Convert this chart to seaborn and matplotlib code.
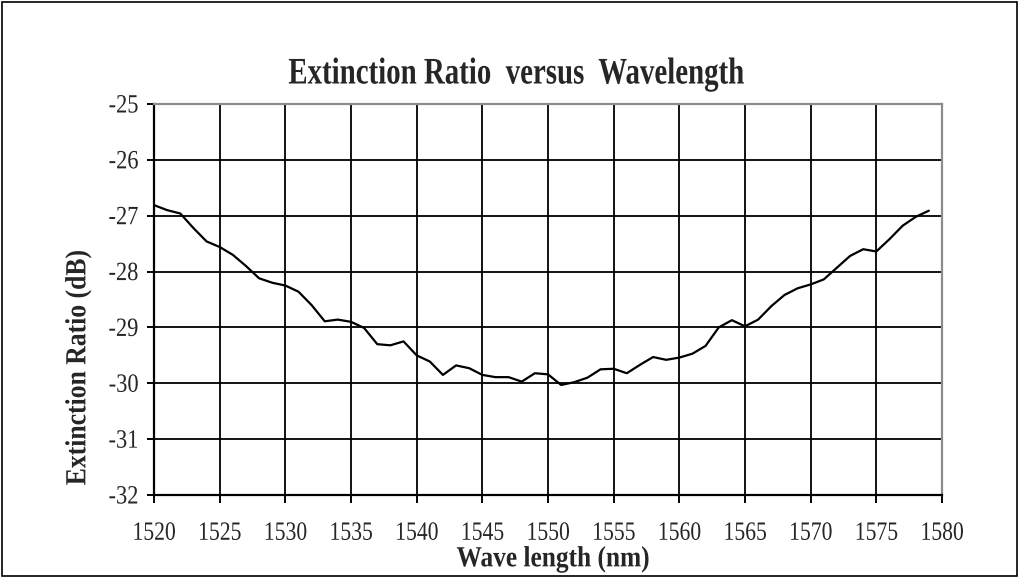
import numpy as np
import pandas as pd
import matplotlib
matplotlib.use("Agg")
import matplotlib.pyplot as plt
import seaborn as sns
from matplotlib.patheffects import AbstractPathEffect
from matplotlib.transforms import Affine2D
from matplotlib.patches import Rectangle

# ---- data ----
wavelength = [1520, 1521, 1522, 1523, 1524, 1525, 1526, 1527, 1528, 1529,
              1530, 1531, 1532, 1533, 1534, 1535, 1536, 1537, 1538, 1539,
              1540, 1541, 1542, 1543, 1544, 1545, 1546, 1547, 1548, 1549,
              1550, 1551, 1552, 1553, 1554, 1555, 1556, 1557, 1558, 1559,
              1560, 1561, 1562, 1563, 1564, 1565, 1566, 1567, 1568, 1569,
              1570, 1571, 1572, 1573, 1574, 1575, 1576, 1577, 1578, 1579]
extinction = [-26.81, -26.90, -26.96, -27.22, -27.46, -27.56, -27.70, -27.90, -28.12, -28.20,
              -28.25, -28.36, -28.60, -28.89, -28.86, -28.90, -29.01, -29.30, -29.32, -29.25,
              -29.50, -29.61, -29.85, -29.68, -29.73, -29.85, -29.89, -29.89, -29.97, -29.82,
              -29.84, -30.03, -29.98, -29.90, -29.75, -29.74, -29.82, -29.67, -29.53, -29.58,
              -29.54, -29.47, -29.33, -29.00, -28.87, -28.98, -28.86, -28.62, -28.42, -28.30,
              -28.23, -28.14, -27.93, -27.72, -27.60, -27.64, -27.42, -27.18, -27.02, -26.91]
x_ticks = [1520, 1525, 1530, 1535, 1540, 1545, 1550, 1555, 1560, 1565, 1570, 1575, 1580]
y_ticks = [-32, -31, -30, -29, -28, -27, -26, -25]
title = "Extinction Ratio  versus  Wavelength"
x_label = "Wave length (nm)"
y_label = "Extinction Ratio (dB)"

df = pd.DataFrame({"wl": wavelength, "er": extinction})


class Condense(AbstractPathEffect):
    """Draw text narrower along its own direction (condensed serif look)."""
    def __init__(self, sx=0.8, anchor="center"):
        super().__init__()
        self.sx = sx
        self.anchor = anchor

    def draw_path(self, renderer, gc, tpath, affine, rgbFace=None):
        ext = tpath.get_extents()
        if self.anchor == "right":
            cx = ext.x1
        elif self.anchor == "left":
            cx = ext.x0
        else:
            cx = 0.5 * (ext.x0 + ext.x1)
        t = Affine2D().translate(-cx, 0).scale(self.sx, 1.0).translate(cx, 0)
        renderer.draw_path(gc, tpath, t + affine, rgbFace)


sns.set_style("white")
plt.rcParams["font.family"] = ["Liberation Serif", "DejaVu Serif"]

fig = plt.figure(figsize=(10.19, 5.77), dpi=100)
ax = fig.add_axes([154 / 1019, 1 - 495 / 577, (942 - 154) / 1019, (495 - 104) / 577])

sns.lineplot(data=df, x="wl", y="er", ax=ax, color="black", linewidth=1.6)
for ln in ax.lines:
    ln.set_solid_joinstyle("round")
    ln.set_solid_capstyle("round")

ax.set_xlim(1520, 1580)
ax.set_ylim(-32, -25)
ax.set_xticks(x_ticks)
ax.set_yticks(y_ticks)
ax.set_xticklabels([str(v) for v in x_ticks])
ax.set_yticklabels([str(v) for v in y_ticks])
ax.grid(True, color="black", linewidth=1.3)
ax.set_axisbelow(True)

ax.tick_params(axis="x", direction="out", length=6, width=1.4, color="black",
               labelsize=19, pad=14, bottom=True, top=False)
ax.tick_params(axis="y", direction="out", length=5, width=1.4, color="black",
               labelsize=19, pad=6, left=True, right=False)

for side in ["left", "bottom"]:
    ax.spines[side].set_color("black")
    ax.spines[side].set_linewidth(1.6)
for side in ["top", "right"]:
    ax.spines[side].set_color("#8c8c8c")
    ax.spines[side].set_linewidth(1.6)

for lab in ax.get_xticklabels():
    lab.set_path_effects([Condense(0.82, "center")])
for lab in ax.get_yticklabels():
    lab.set_path_effects([Condense(0.85, "right")])

ax.set_xlabel(x_label, fontsize=21, fontweight="bold")
ax.xaxis.label.set_va("center")
ax.xaxis.set_label_coords((553 - 154) / 788, (495 - 559) / 391)
ax.xaxis.label.set_path_effects([Condense(0.87, "center")])

ax.set_ylabel(y_label, fontsize=21, fontweight="bold")
ax.yaxis.label.set_va("center")
ax.yaxis.set_label_coords((78 - 154) / 788, (495 - 368) / 391)
ax.yaxis.label.set_path_effects([Condense(0.88, "center")])

t = fig.text(516 / 1019, 1 - 74 / 577, title, ha="center", va="center",
             fontsize=27, fontweight="bold")
t.set_path_effects([Condense(0.77, "center")])

fig.patches.append(Rectangle((0.002, 0.002), 0.996, 0.995, transform=fig.transFigure,
                             fill=False, edgecolor="black", linewidth=1.2))

fig.savefig("out.png", dpi=100)
